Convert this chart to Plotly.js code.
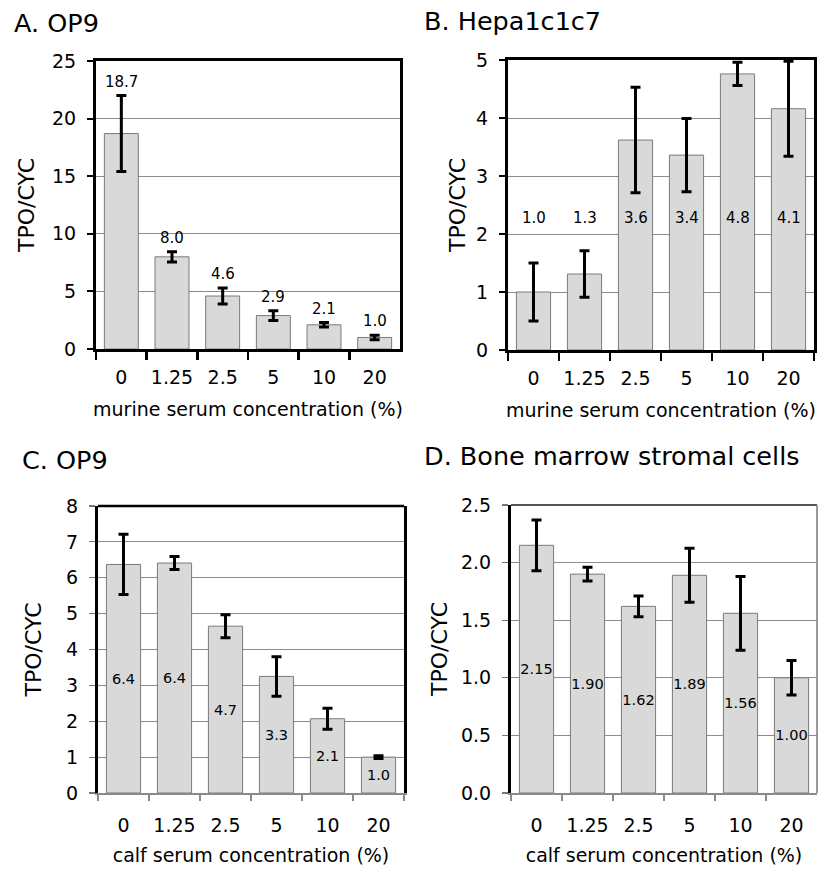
<!DOCTYPE html>
<html>
<head>
<meta charset="utf-8">
<script src="https://cdn.plot.ly/plotly-3.0.1.min.js"></script>
<style>html,body{margin:0;padding:0;background:#fff;}#chart{width:831px;height:877px;}</style>
</head>
<body>
<div id="chart"></div>
<script>
// ---- data ----
const categories = ['0', '1.25', '2.5', '5', '10', '20'];

const panelTitles = ['A. OP9', 'B. Hepa1c1c7', 'C. OP9', 'D. Bone marrow stromal cells'];
const xTitles = ['murine serum concentration (%)', 'murine serum concentration (%)',
                 'calf serum concentration (%)', 'calf serum concentration (%)'];
const yTitle = 'TPO/CYC';

const valuesA = [18.7, 8.0, 4.6, 2.9, 2.1, 1.0];
const errorsA = [3.3, 0.45, 0.7, 0.43, 0.2, 0.2];
const labelsA = ['18.7', '8.0', '4.6', '2.9', '2.1', '1.0'];

const valuesB = [1.0, 1.31, 3.62, 3.36, 4.76, 4.16];
const errorsB = [0.5, 0.4, 0.91, 0.63, 0.2, 0.82];
const labelsB = ['1.0', '1.3', '3.6', '3.4', '4.8', '4.1'];

const valuesC = [6.37, 6.41, 4.65, 3.25, 2.07, 1.0];
const errorsC = [0.84, 0.18, 0.32, 0.55, 0.29, 0.04];
const labelsC = ['6.4', '6.4', '4.7', '3.3', '2.1', '1.0'];

const valuesD = [2.15, 1.90, 1.62, 1.89, 1.56, 1.00];
const errorsD = [0.22, 0.06, 0.09, 0.235, 0.32, 0.15];
const labelsD = ['2.15', '1.90', '1.62', '1.89', '1.56', '1.00'];

const yRanges = [[0, 25], [0, 5], [0, 8], [0, 2.5]];
const yDticks = [5, 1, 1, 0.5];
const yFormats = ['d', 'd', 'd', '.1f'];

// ---- style ----
const FONT = 'DejaVu Sans, Verdana, sans-serif';
const barFill = '#d9d9d9';
const barLine = '#7a7a7a';

function barTrace(vals, errs, xa, ya, text) {
  const t = {
    type: 'bar', x: categories, y: vals, xaxis: xa, yaxis: ya,
    marker: {color: barFill, line: {color: barLine, width: 1}},
    error_y: {type: 'data', array: errs, visible: true, color: '#000', thickness: 3, width: 5},
    showlegend: false, hoverinfo: 'x+y'
  };
  if (text) {
    t.text = text;
    t.textposition = 'inside';
    t.insidetextanchor = 'middle';
    t.constraintext = 'none';
    t.textangle = 0;
    t.textfont = {family: FONT, size: 14.5, color: '#000'};
  }
  return t;
}

const data = [
  barTrace(valuesA, errorsA, 'x', 'y', null),
  barTrace(valuesB, errorsB, 'x2', 'y2', null),
  barTrace(valuesC, errorsC, 'x3', 'y3', labelsC),
  barTrace(valuesD, errorsD, 'x4', 'y4', labelsD)
];

const W = 831, H = 877;
// plot boxes in px: [left, right, top, bottom]
const boxes = [[96, 400, 61, 349], [508, 814, 60, 350], [98, 404, 506, 793], [511, 817, 505, 793]];
const yTitleStandoff = [12, 5, 19, 8];
const xLabelStandoff = [9, 9, 15, 15];
const xTitleStandoff = [16, 16, 13, 13];

function xAxis(i, dark) {
  const b = boxes[i];
  return {
    domain: [b[0] / W, b[1] / W], anchor: i === 0 ? 'y' : 'y' + (i + 1),
    type: 'category', tickson: 'boundaries', range: [-0.5, categories.length - 0.5],
    tickangle: 0,
    showline: true, linecolor: dark ? '#000' : '#8a8a8a', linewidth: dark ? 3 : 1.5,
    mirror: dark ? true : false,
    ticks: 'outside', ticklen: dark ? 8 : 6, tickwidth: dark ? 2.5 : 1.2,
    tickcolor: dark ? '#000' : '#8a8a8a',
    ticklabelstandoff: xLabelStandoff[i],
    tickfont: {family: FONT, size: 19, color: '#000'},
    showgrid: false, zeroline: false,
    title: {text: xTitles[i], font: {family: FONT, size: 19, color: '#000'}, standoff: xTitleStandoff[i]},
    fixedrange: true
  };
}
function yAxis(i, dark) {
  const b = boxes[i];
  return {
    domain: [(H - b[3]) / H, (H - b[2]) / H], anchor: i === 0 ? 'x' : 'x' + (i + 1),
    range: yRanges[i], dtick: yDticks[i], tick0: 0, tickformat: yFormats[i],
    showline: true, linecolor: '#000', linewidth: 3, mirror: dark ? true : (i === 2),
    ticks: 'outside', ticklen: 6, tickwidth: dark ? 2 : 1.2, tickcolor: dark ? '#000' : '#777',
    ticklabelstandoff: 7,
    tickfont: {family: FONT, size: 19, color: '#000'},
    showgrid: true, gridcolor: '#8c8c8c', gridwidth: 1, zeroline: false,
    title: {text: yTitle, font: {family: FONT, size: 22, color: '#000'}, standoff: yTitleStandoff[i]},
    fixedrange: true
  };
}

const annotations = [];
// panel titles
const titlePos = [[12, 23], [422, 21], [20, 460], [422, 456]];
panelTitles.forEach((t, i) => {
  annotations.push({
    text: t, xref: 'paper', yref: 'paper', x: titlePos[i][0] / W, y: 1 - titlePos[i][1] / H,
    xanchor: 'left', yanchor: 'middle', showarrow: false,
    font: {family: FONT, size: 25.5, color: '#000'}
  });
});
// panel A: labels above error bars
categories.forEach((c, k) => {
  annotations.push({
    text: labelsA[k], xref: 'x', yref: 'y', x: k, y: valuesA[k] + errorsA[k],
    yanchor: 'bottom', yshift: 3, showarrow: false,
    font: {family: FONT, size: 15, color: '#000'}
  });
});
// panel B: labels in a row across the plot
const labelRowB = 2.27;
categories.forEach((c, k) => {
  annotations.push({
    text: labelsB[k], xref: 'x2', yref: 'y2', x: k, y: labelRowB,
    yanchor: 'middle', showarrow: false,
    font: {family: FONT, size: 15, color: '#000'}
  });
});

const shapes = [
  // C: top border black
  {type: 'line', xref: 'x3 domain', yref: 'y3 domain', x0: 0, x1: 1, y0: 1, y1: 1,
   line: {color: '#000', width: 2.5}},
  // D: top border dark gray, right border gray
  {type: 'line', xref: 'x4 domain', yref: 'y4 domain', x0: 0, x1: 1, y0: 1, y1: 1,
   line: {color: '#555', width: 2}},
  {type: 'line', xref: 'x4 domain', yref: 'y4 domain', x0: 1, x1: 1, y0: 0, y1: 1,
   line: {color: '#7a7a7a', width: 1.5}}
];

const layout = {
  width: W, height: H,
  margin: {l: 0, r: 0, t: 0, b: 0},
  paper_bgcolor: '#fff', plot_bgcolor: '#fff',
  bargap: 0.33,
  font: {family: FONT, color: '#000'},
  xaxis: xAxis(0, true), yaxis: yAxis(0, true),
  xaxis2: xAxis(1, true), yaxis2: yAxis(1, true),
  xaxis3: xAxis(2, false), yaxis3: yAxis(2, false),
  xaxis4: xAxis(3, false), yaxis4: yAxis(3, false),
  annotations: annotations,
  shapes: shapes,
  showlegend: false
};

Plotly.newPlot('chart', data, layout, {displayModeBar: false, staticPlot: true});
</script>
</body>
</html>
